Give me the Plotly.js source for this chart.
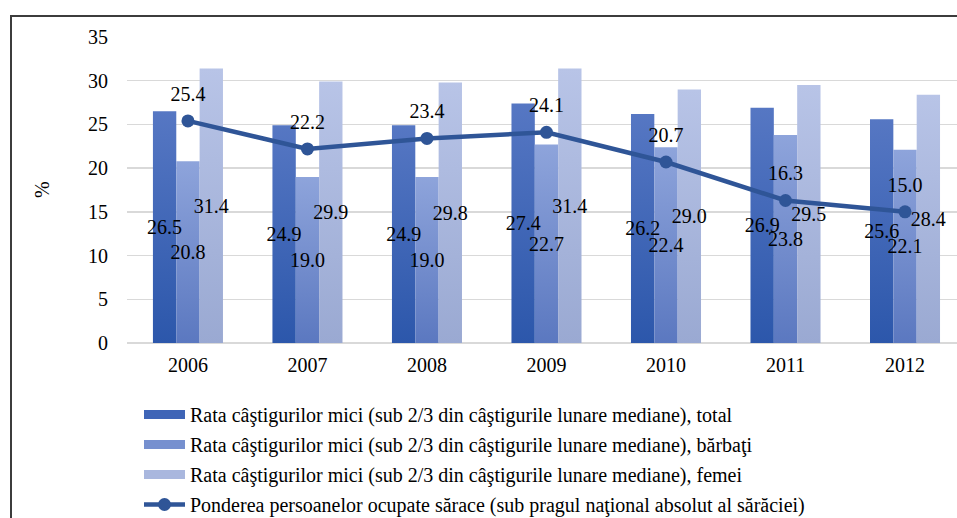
<!DOCTYPE html>
<html>
<head>
<meta charset="utf-8">
<script src="https://cdn.plot.ly/plotly-3.0.1.min.js"></script>
<style>
html,body{margin:0;padding:0;background:#fff;overflow:hidden;}
#wrap{position:relative;width:957px;height:518px;}
#chart{width:957px;height:518px;}
#frame{position:absolute;left:10px;top:15px;width:1000px;height:600px;border-left:2px solid #3c3c3c;border-top:2px solid #3c3c3c;pointer-events:none;}
</style>
</head>
<body>
<div id="wrap"><div id="chart"></div><div id="frame"></div></div>
<script>
const years = ['2006','2007','2008','2009','2010','2011','2012'];
const totalRate = [26.5, 24.9, 24.9, 27.4, 26.2, 26.9, 25.6];
const menRate = [20.8, 19.0, 19.0, 22.7, 22.4, 23.8, 22.1];
const womenRate = [31.4, 29.9, 29.8, 31.4, 29.0, 29.5, 28.4];
const poorEmployed = [25.4, 22.2, 23.4, 24.1, 20.7, 16.3, 15.0];
const yTicks = [0, 5, 10, 15, 20, 25, 30, 35];

const names = [
  'Rata câştigurilor mici (sub 2/3 din câştigurile lunare mediane), total',
  'Rata câştigurilor mici (sub 2/3 din câştigurile lunare mediane), bărbaţi',
  'Rata câştigurilor mici (sub 2/3 din câştigurile lunare mediane), femei',
  'Ponderea persoanelor ocupate sărace (sub pragul naţional absolut al sărăciei)'
];
const FONT = 'Liberation Serif, Times New Roman, serif';
const barColors = ['#3f65b7', '#7690cf', '#a9b7de'];
const gradStops = [['#5677c3', '#2c57ab'], ['#8ea4db', '#5b78c0'], ['#b8c4e7', '#9aa9d2']];

function barTrace(vals, i) {
  return {
    type: 'bar', x: years, y: vals, name: names[i], legendgroup: 'g' + i,
    marker: {color: barColors[i], line: {width: 0}},
    texttemplate: '%{y:.1f}', textposition: 'inside', insidetextanchor: 'middle',
    constraintext: 'none', textangle: 0, cliponaxis: false,
    textfont: {family: FONT, size: 20, color: '#000'},
    hoverinfo: 'skip'
  };
}

const data = [
  barTrace(totalRate, 0),
  barTrace(menRate, 1),
  barTrace(womenRate, 2),
  {
    type: 'scatter', mode: 'lines+markers+text', x: years, y: poorEmployed, name: names[3], legendgroup: 'g3',
    line: {color: '#2f5597', width: 4.5},
    marker: {color: '#2f5597', size: 13, symbol: 'circle'},
    texttemplate: '%{y:.1f}', textposition: 'top center', cliponaxis: false,
    textfont: {family: FONT, size: 20, color: '#000'},
    hoverinfo: 'skip'
  }
];

const layout = {
  width: 957, height: 518,
  margin: {l: 127, r: 0, t: 37, b: 175, autoexpand: false},
  paper_bgcolor: '#fff', plot_bgcolor: '#fff',
  font: {family: FONT, size: 20, color: '#000'},
  barmode: 'group', bargap: 0.414, bargroupgap: 0,
  showlegend: true,
  legend: {
    orientation: 'v', xref: 'container', yref: 'container',
    x: 139/957, y: 1 - 395/518, xanchor: 'left', yanchor: 'top',
    font: {family: FONT, size: 20, color: '#000'},
    traceorder: 'grouped', tracegroupgap: 1, itemwidth: 41,
    bgcolor: 'rgba(0,0,0,0)', borderwidth: 0
  },
  xaxis: {
    type: 'category', range: [-0.51, 6.435], showgrid: false, zeroline: false,
    showline: false, ticks: '', tickfont: {family: FONT, size: 20, color: '#000'},
    ticklabelstandoff: 8, fixedrange: true
  },
  yaxis: {
    range: [0, 35], tickvals: yTicks, ticktext: yTicks.map(String),
    showgrid: true, gridcolor: '#d9d9d9', gridwidth: 1.3,
    zeroline: true, zerolinecolor: '#d9d9d9', zerolinewidth: 1.5,
    showline: false, ticks: '', ticklabelstandoff: 18,
    tickfont: {family: FONT, size: 20, color: '#000'},
    fixedrange: true
  },
  annotations: [{
    text: '%', xref: 'paper', yref: 'paper', x: -85/830, y: 0.5,
    xanchor: 'center', yanchor: 'middle', textangle: -90, showarrow: false,
    font: {family: FONT, size: 20, color: '#000'}
  }]
};

Plotly.newPlot('chart', data, layout, {displayModeBar: false, staticPlot: true}).then(function (gd) {
  const svg = gd.querySelector('svg.main-svg');
  const ns = 'http://www.w3.org/2000/svg';
  const defs = document.createElementNS(ns, 'defs');
  gradStops.forEach(function (st, i) {
    const lg = document.createElementNS(ns, 'linearGradient');
    lg.setAttribute('id', 'bargrad' + i);
    lg.setAttribute('x1', '0'); lg.setAttribute('y1', '0');
    lg.setAttribute('x2', '0'); lg.setAttribute('y2', '1');
    [[0, st[0]], [1, st[1]]].forEach(function (s) {
      const stop = document.createElementNS(ns, 'stop');
      stop.setAttribute('offset', s[0]);
      stop.setAttribute('stop-color', s[1]);
      lg.appendChild(stop);
    });
    defs.appendChild(lg);
  });
  svg.insertBefore(defs, svg.firstChild);
  gd.querySelectorAll('.barlayer .trace.bars').forEach(function (tr, i) {
    tr.querySelectorAll('.point path').forEach(function (p) {
      p.style.fill = 'url(#bargrad' + i + ')';
    });
  });
  // bring bar labels above every bar and the line
  const barlayer = gd.querySelector('.barlayer');
  if (barlayer) {
    const plotGroup = barlayer.parentNode;
    const top = document.createElementNS(ns, 'g');
    top.setAttribute('class', 'toplabels');
    barlayer.querySelectorAll('text.bartext').forEach(function (t) { top.appendChild(t); });
    plotGroup.appendChild(top);
  }
  // lift line labels a little
  gd.querySelectorAll('.scatterlayer .textpoint text').forEach(function (t) {
    const y = parseFloat(t.getAttribute('y'));
    t.setAttribute('y', y - 6);
    t.querySelectorAll('tspan').forEach(function (s) {
      if (s.getAttribute('y') !== null) s.setAttribute('y', parseFloat(s.getAttribute('y')) - 6);
    });
  });
  gd.querySelectorAll('.legend .traces').forEach(function (t) {
    t.querySelectorAll('.legendbar path, .legendpoints path.legendundefined').forEach(function (p) {
      p.setAttribute('d', 'M20.5,4.5H-20.5V-4.5H20.5Z');
    });
  });
});
</script>
</body>
</html>
